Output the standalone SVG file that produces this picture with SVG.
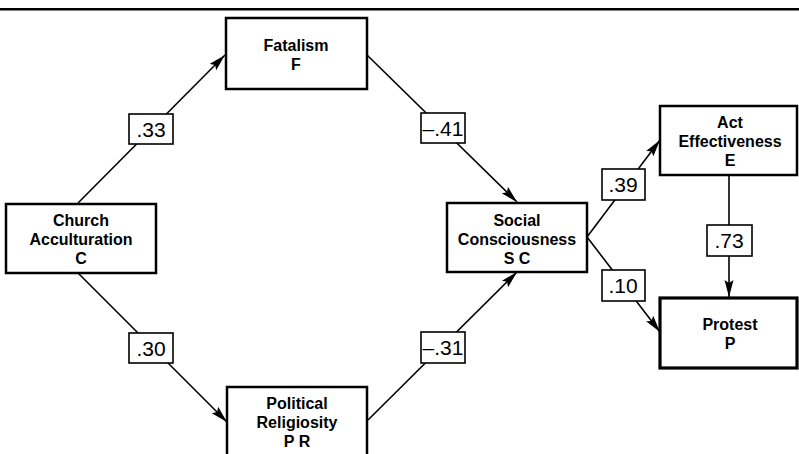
<svg xmlns="http://www.w3.org/2000/svg" width="799" height="454" viewBox="0 0 799 454">
<style>
.node{fill:#fff;stroke:#000;stroke-width:2.5}
.thick{stroke-width:3.2}
.lbl{fill:#fff;stroke:#000;stroke-width:1.6}
.t{font-family:"Liberation Sans",Arial,sans-serif;font-weight:bold;font-size:16px;text-anchor:middle;fill:#000}
.n{font-family:"Liberation Sans",Arial,sans-serif;font-size:21px;text-anchor:middle;fill:#000}
.c{stroke:#000;stroke-width:1.6;fill:none}
</style>
<defs>
<marker id="ah" markerUnits="userSpaceOnUse" markerWidth="20" markerHeight="10" refX="17" refY="4.5" orient="auto">
<path d="M0,0 L17,4.5 L0,9 L3,4.5 Z" fill="#000"/>
</marker>
</defs>
<rect x="0" y="8" width="799" height="2.5" fill="#000"/>
<g id="connectors">
<line class="c" x1="78" y1="203" x2="225" y2="55" marker-end="url(#ah)"/>
<line class="c" x1="78" y1="273" x2="227" y2="422" marker-end="url(#ah)"/>
<line class="c" x1="367" y1="55" x2="517" y2="202" marker-end="url(#ah)"/>
<line class="c" x1="368" y1="420" x2="517" y2="272" marker-end="url(#ah)"/>
<line class="c" x1="587" y1="237" x2="660" y2="140" marker-end="url(#ah)"/>
<line class="c" x1="587" y1="237" x2="660" y2="332" marker-end="url(#ah)"/>
<line class="c" x1="729" y1="175" x2="729" y2="297" marker-end="url(#ah)"/>
<g id="l33"><rect class="lbl" x="129" y="114" width="44" height="30"/><text class="n" x="151" y="137">.33</text></g>
<g id="l41"><rect class="lbl" x="421" y="113" width="44" height="30"/><text class="n" x="443" y="136">–.41</text></g>
<g id="l30"><rect class="lbl" x="129" y="333" width="44" height="30"/><text class="n" x="151" y="356">.30</text></g>
<g id="l31"><rect class="lbl" x="421" y="332" width="44" height="31"/><text class="n" x="443" y="355">–.31</text></g>
<g id="l39"><rect class="lbl" x="602" y="169" width="43" height="31"/><text class="n" x="623" y="192">.39</text></g>
<g id="l10"><rect class="lbl" x="602" y="270" width="43" height="31"/><text class="n" x="623" y="293">.10</text></g>
<g id="l73"><rect class="lbl" x="707" y="225" width="45" height="31"/><text class="n" x="729" y="248">.73</text></g>
</g>
<g id="fatalism"><rect class="node" x="226" y="18" width="141" height="71"/><text class="t" x="296" y="51">Fatalism</text><text class="t" x="296" y="70">F</text></g>
<g id="church"><rect class="node" x="6" y="204" width="150" height="69"/><text class="t" x="81" y="226">Church</text><text class="t" x="81" y="245">Acculturation</text><text class="t" x="81" y="264">C</text></g>
<g id="social"><rect class="node" x="447" y="203" width="140" height="69"/><text class="t" x="517" y="226">Social</text><text class="t" x="517" y="245">Consciousness</text><text class="t" x="517" y="264">S C</text></g>
<g id="political"><rect class="node" x="227" y="387" width="140" height="80"/><text class="t" x="297" y="409">Political</text><text class="t" x="297" y="428">Religiosity</text><text class="t" x="297" y="447">P R</text></g>
<g id="act"><rect class="node" x="660" y="106" width="137" height="69"/><text class="t" x="730" y="128">Act</text><text class="t" x="730" y="147">Effectiveness</text><text class="t" x="730" y="166">E</text></g>
<g id="protest"><rect class="node thick" x="660" y="298" width="137" height="70"/><text class="t" x="730" y="330">Protest</text><text class="t" x="730" y="349">P</text></g>
</svg>
